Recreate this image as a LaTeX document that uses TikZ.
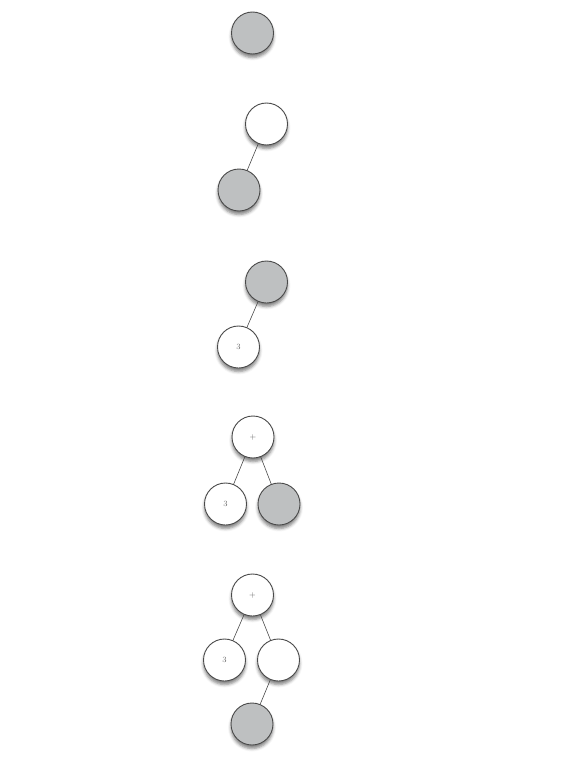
\documentclass[tikz,border=0pt]{standalone}
\usetikzlibrary{shadows.blur}
\definecolor{nodegray}{HTML}{BEC0C1}
\definecolor{edgegray}{HTML}{4A4A4A}
\definecolor{labelgray}{HTML}{606060}
\tikzset{
  treenode/.style={circle, draw=edgegray, line width=0.9pt, minimum size=42pt, inner sep=0pt,
    font=\fontsize{8}{9}\selectfont, text=labelgray,
    blur shadow={shadow xshift=0pt, shadow yshift=-3.5pt, shadow blur radius=3pt, shadow opacity=50}},
  whitenode/.style={treenode, fill=white},
  graynode/.style={treenode, fill=nodegray},
  treeedge/.style={draw=edgegray, line width=0.6pt}
}
\begin{document}
\begin{tikzpicture}[x=1pt, y=-1pt]
\useasboundingbox (0,0) rectangle (586,771);
% tree 1
\node[graynode] (a1) at (252.5,33) {};
% tree 2
\node[whitenode] (b1) at (266.5,124) {};
\node[graynode] (b2) at (239,190) {};
\draw[treeedge] (b1) -- (b2);
% tree 3
\node[graynode] (c1) at (266.5,282) {};
\node[whitenode] (c2) at (238.5,347) {3};
\draw[treeedge] (c1) -- (c2);
% tree 4
\node[whitenode] (d1) at (253,437) {+};
\node[whitenode] (d2) at (225.5,504) {3};
\node[graynode] (d3) at (279,504) {};
\draw[treeedge] (d1) -- (d2);
\draw[treeedge] (d1) -- (d3);
% tree 5
\node[whitenode] (e1) at (252.5,595) {+};
\node[whitenode] (e2) at (224.5,660) {3};
\node[whitenode] (e3) at (278.5,660) {};
\node[graynode] (e4) at (252,724) {};
\draw[treeedge] (e1) -- (e2);
\draw[treeedge] (e1) -- (e3);
\draw[treeedge] (e3) -- (e4);
\end{tikzpicture}
\end{document}
